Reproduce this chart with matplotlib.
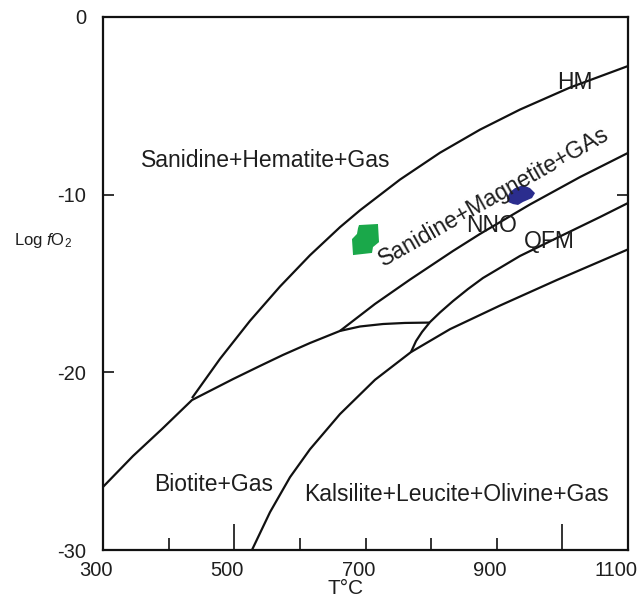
import matplotlib
matplotlib.use("Agg")
import matplotlib.pyplot as plt
import matplotlib.transforms as mtrans

# ---------------- data ----------------
hm_T = [435.6, 478.3, 524.0, 569.7, 615.4, 661.1, 691.6, 752.6, 813.5, 874.5, 935.4, 1011.6, 1100.0]
hm_y = [-21.45, -19.24, -17.10, -15.17, -13.41, -11.83, -10.88, -9.15, -7.64, -6.34, -5.21, -3.97, -2.76]

nno_T = [661.1, 714.5, 767.8, 833.3, 874.5, 950.7, 1026.8, 1100.0]
nno_y = [-17.67, -16.15, -14.78, -13.17, -12.21, -10.55, -9.01, -7.65]

qfm_T = [769.3, 777.0, 786.1, 798.3, 813.5, 833.3, 856.2, 879.0, 935.4, 1000.9, 1057.3, 1100.0]
qfm_y = [-18.86, -18.24, -17.73, -17.17, -16.63, -15.99, -15.31, -14.69, -13.45, -12.27, -11.26, -10.47]

bio_T = [300.0, 345.7, 389.9, 435.6, 498.1, 539.2, 574.3, 615.4, 661.1, 691.6, 726.7, 760.2, 797.0]
bio_y = [-26.45, -24.71, -23.19, -21.56, -20.38, -19.64, -19.02, -18.35, -17.67, -17.42, -17.28, -17.22, -17.20]

kal_T = [527.0, 554.5, 585.0, 615.4, 661.1, 714.5, 769.3, 828.8, 905.0, 991.8, 1100.0]
kal_y = [-30.0, -27.87, -25.90, -24.33, -22.35, -20.42, -18.86, -17.57, -16.24, -14.80, -13.08]

green_T = [690.1, 719.0, 720.6, 711.4, 709.9, 681.0, 679.4, 687.0, 688.6]
green_y = [-11.71, -11.65, -12.67, -12.95, -13.28, -13.40, -12.50, -12.21, -11.88]

blue_T = [915.6, 920.2, 927.8, 940.0, 950.7, 958.3, 953.7, 940.0, 932.4, 924.8, 917.1]
blue_y = [-10.19, -9.85, -9.63, -9.46, -9.63, -9.91, -10.19, -10.41, -10.58, -10.53, -10.41]

x_ticks = [300, 400, 500, 600, 700, 800, 900, 1000, 1100]
x_labels = ["300", "", "500", "", "700", "", "900", "", "1100"]
y_ticks = [0, -10, -20, -30]
y_labels = ["0", "-10", "-20", "-30"]

field_labels = ["Sanidine+Hematite+Gas", "HM", "NNO", "QFM", "Biotite+Gas",
                "Kalsilite+Leucite+Olivine+Gas"]
field_T = [548.4, 1019.0, 892.8, 979.6, 468.4, 837.9]
field_y = [-8.05, -3.66, -11.76, -12.61, -26.34, -26.85]

# ---------------- style ----------------
REG = "Liberation Sans"
plt.rcParams["font.family"] = [REG, "DejaVu Sans"]
plt.rcParams["mathtext.fontset"] = "custom"
plt.rcParams["mathtext.rm"] = REG
plt.rcParams["mathtext.it"] = REG + ":italic"

TXT = "#1e1e1e"
LINE = "#111111"

fig = plt.figure(figsize=(6.38, 6.0), dpi=100)
ax = fig.add_axes([103 / 638, 1 - 550 / 600, 525 / 638, 533 / 600])
ax.set_xlim(300, 1100)
ax.set_ylim(-30, 0)

lw = 1.6
for T, y in [(hm_T, hm_y), (nno_T, nno_y), (qfm_T, qfm_y), (bio_T, bio_y), (kal_T, kal_y)]:
    ax.plot(T, y, color=LINE, lw=lw, solid_capstyle="butt", solid_joinstyle="round")

ax.fill(green_T, green_y, color="#1aa84a", lw=0)
ax.fill(blue_T, blue_y, color="#2b2d8e", lw=0)

for s, T, y in zip(field_labels, field_T, field_y):
    ax.text(T, y, s, ha="center", va="center", fontsize=16.5, color=TXT)

ax.text(895, -10.1, "Sanidine+Magnetite+GAs", ha="center", va="center",
        rotation=29.5, rotation_mode="anchor", fontsize=16.5, color=TXT)

for sp in ax.spines.values():
    sp.set_linewidth(1.6)
    sp.set_color(LINE)

# x ticks
ax.set_xticks(x_ticks)
ax.set_xticklabels(x_labels, fontsize=14.5, color=TXT)
ax.tick_params(axis="x", direction="in", length=9, width=1.2, pad=8, colors=LINE)
for t, v in zip(ax.xaxis.get_major_ticks(), x_ticks):
    if v in (500, 1000):
        t.tick1line.set_markersize(19)
    if v in (300, 1100):
        t.tick1line.set_markersize(0)
for lab, v in zip(ax.get_xticklabels(), x_ticks):
    dx = -12 if v == 1100 else -7
    lab.set_transform(lab.get_transform() + mtrans.ScaledTranslation(dx / 100, 0, fig.dpi_scale_trans))
    lab.set_color(TXT)

# y ticks
ax.set_yticks(y_ticks)
ax.set_yticklabels(y_labels, fontsize=14.5, color=TXT)
ax.tick_params(axis="y", direction="in", length=8, width=1.2, pad=12, colors=LINE)
for t, v in zip(ax.yaxis.get_major_ticks(), y_ticks):
    if v in (0, -30):
        t.tick1line.set_markersize(0)
for lab in ax.get_yticklabels():
    lab.set_color(TXT)

# right-side tick at -10
ax.plot([1100], [-10], marker=0, markersize=8, mew=1.2, color=LINE, clip_on=False)

fig.text(43 / 638, 1 - 241 / 600, r"Log $\mathit{f}$O$_{2}$", ha="center", va="center",
         fontsize=12, color=TXT)
fig.text(346 / 638, 1 - 589 / 600, "T°C", ha="center", va="center",
         fontsize=15, color=TXT)

fig.savefig("out.png", dpi=100)
